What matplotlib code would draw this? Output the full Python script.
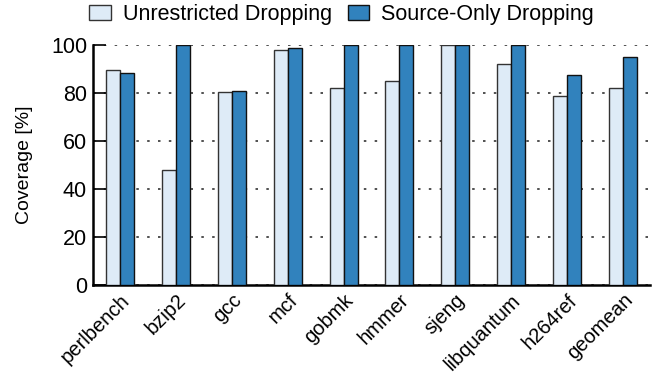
import matplotlib.pyplot as plt
import numpy as np

plt.rcParams["font.family"] = ["Liberation Sans", "DejaVu Sans"]

benchmarks = ["perlbench", "bzip2", "gcc", "mcf", "gobmk", "hmmer",
              "sjeng", "libquantum", "h264ref", "geomean"]
unrestricted = [89.5, 48.1, 80.3, 97.8, 82.3, 85.2, 100.0, 92.0, 78.8, 82.3]
source_only = [88.3, 100.0, 81.0, 98.7, 100.0, 100.0, 100.0, 100.0, 87.6, 95.0]

light_blue = "#deebf7"
dark_blue = "#3182bd"

fig = plt.figure(figsize = (6.57, 3.79), dpi = 100)
ax = fig.add_axes([0.141, 0.248, 0.848, 0.633])

x = np.arange(len(benchmarks))
width = 0.25

ax.bar(x - width / 2, unrestricted, width,
       color = light_blue, edgecolor = "#333333", linewidth = 1.0,
       label = "Unrestricted Dropping", zorder = 3)
ax.bar(x + width / 2, source_only, width,
       color = dark_blue, edgecolor = "#111111", linewidth = 1.0,
       label = "Source-Only Dropping", zorder = 3)

ax.set_xlim(-0.49, 9.48)
ax.set_ylim(0, 100)
ax.set_yticks([0, 20, 40, 60, 80, 100])
ax.yaxis.grid(True, linestyle = (0, (1.5, 5)), color = "#333333",
              linewidth = 1.2, zorder = 0)

ax.set_xticks(x)
ax.set_xticklabels(benchmarks, rotation = 45, ha = "right",
                   rotation_mode = "anchor", fontsize = 14.5)
ax.tick_params(axis = "x", length = 0, pad = 4)
ax.tick_params(axis = "y", direction = "in", length = 9, width = 1.2,
               labelsize = 15.5, pad = 4)

for side in ["top", "right"]:
    ax.spines[side].set_visible(False)
for side in ["left", "bottom"]:
    ax.spines[side].set_linewidth(1.8)

ax.set_ylabel("Coverage [%]", fontsize = 14, labelpad = 13)

fig.legend(loc = "center", bbox_to_anchor = (0.52, 0.962), ncol = 2,
           frameon = False, fontsize = 15.5, handlelength = 1.0,
           handleheight = 0.7, handletextpad = 0.55, columnspacing = 0.75,
           borderaxespad = 0, borderpad = 0)

fig.savefig("out.png", dpi = 100)
